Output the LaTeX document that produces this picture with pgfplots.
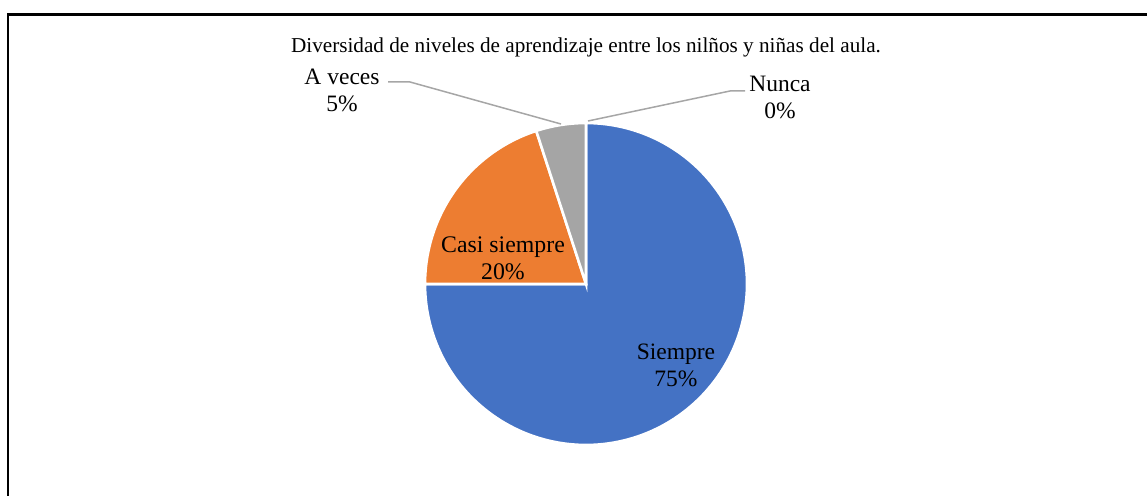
\documentclass[border=0pt]{standalone}
\usepackage{pgfplots}
\pgfplotsset{compat=1.18}
\usepackage{fontspec}
\setmainfont{Liberation Serif}
\definecolor{cS}{HTML}{4472C4}
\definecolor{cC}{HTML}{ED7D31}
\definecolor{cA}{HTML}{A5A5A5}
\definecolor{lead}{HTML}{A6A6A6}
\begin{document}
\begin{tikzpicture}
% pie centre and radius (axis units = pt)
\def\cx{586}\def\cy{211}\def\r{161}
% data (percent)
\def\vS{75}\def\vC{20}\def\vA{5}\def\vN{0}
\pgfmathsetmacro\aA{90}
\pgfmathsetmacro\aB{\aA-3.6*\vS}
\pgfmathsetmacro\aC{\aB-3.6*\vC}
\pgfmathsetmacro\aD{\aC-3.6*\vA}
\begin{axis}[x=1pt,y=1pt,xmin=0,xmax=1147,ymin=0,ymax=495,
  hide axis,scale only axis,clip=false,at={(0,0)},anchor=south west]
\addplot[fill=cS,draw=white,line width=2.6pt,domain=\aB:\aA,samples=150,variable=\t]
  ({\cx+\r*cos(\t)},{\cy+\r*sin(\t)}) -- (axis cs:\cx,\cy) -- cycle;
\addplot[fill=cC,draw=white,line width=2.6pt,domain=\aC:\aB,samples=60,variable=\t]
  ({\cx+\r*cos(\t)},{\cy+\r*sin(\t)}) -- (axis cs:\cx,\cy) -- cycle;
\addplot[fill=cA,draw=white,line width=2.6pt,domain=\aD:\aC,samples=30,variable=\t]
  ({\cx+\r*cos(\t)},{\cy+\r*sin(\t)}) -- (axis cs:\cx,\cy) -- cycle;
% leader lines
\draw[lead,line width=1.5pt] (axis cs:388,413) -- (axis cs:410,413) -- (axis cs:561,371);
\draw[lead,line width=1.5pt] (axis cs:588,374) -- (axis cs:730,404) -- (axis cs:745,404);
% labels
\node[align=center,font=\fontsize{23.5}{27}\selectfont] at (axis cs:676,130) {Siempre\\75\%};
\node[align=center,font=\fontsize{23.8}{27}\selectfont] at (axis cs:503,237) {Casi siempre\\20\%};
\node[align=center,font=\fontsize{23.5}{27}\selectfont] at (axis cs:342,405) {A veces\\5\%};
\node[align=center,font=\fontsize{23.5}{27}\selectfont] at (axis cs:780,398) {Nunca\\0\%};
\node[font=\fontsize{21.2}{24}\selectfont] at (axis cs:586,448) {Diversidad de niveles de aprendizaje entre los nilños y niñas del aula.};
% frame
\draw[black,line width=2.4pt] (axis cs:8,480.5) rectangle (axis cs:1300,-100);
\end{axis}
\pgfresetboundingbox
\useasboundingbox (0,0) rectangle (1147pt,495pt);
\end{tikzpicture}
\end{document}
